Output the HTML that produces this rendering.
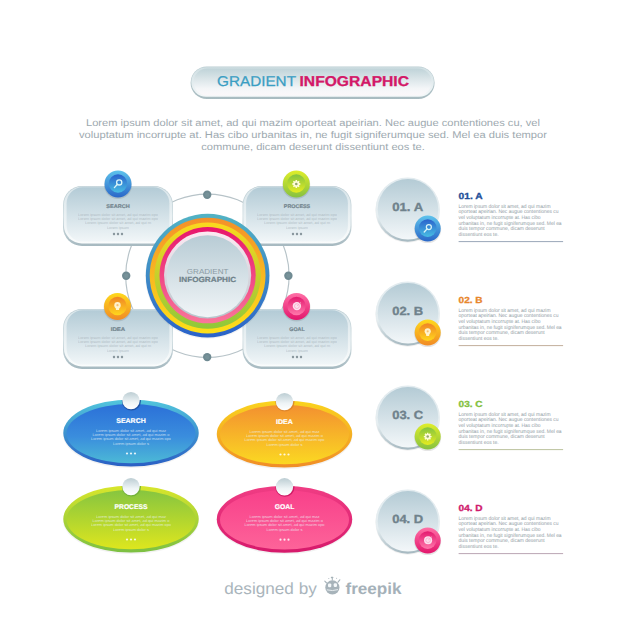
<!DOCTYPE html>
<html><head><meta charset="utf-8"><title>Gradient Infographic</title>
<style>
html,body{margin:0;padding:0;background:#ffffff;width:626px;height:626px;overflow:hidden}
svg{display:block;font-family:"Liberation Sans", sans-serif}
text{text-rendering:geometricPrecision}
</style></head><body>
<svg width="626" height="626" viewBox="0 0 626 626">
<defs><linearGradient id="cardRim" x1="0" y1="0" x2="0" y2="1"><stop offset="0" stop-color="#b8cad0"/><stop offset="0.5" stop-color="#d3dfe3"/><stop offset="1" stop-color="#a6b9c0"/></linearGradient><linearGradient id="cardHi" x1="0" y1="0" x2="0" y2="1"><stop offset="0" stop-color="#d9e5ea"/><stop offset="1" stop-color="#fafcfc"/></linearGradient><linearGradient id="cardFace" x1="0" y1="0" x2="0" y2="1"><stop offset="0" stop-color="#b3cbd6"/><stop offset="1" stop-color="#f1f6f8"/></linearGradient><linearGradient id="ballFace" x1="0" y1="0" x2="0" y2="1"><stop offset="0" stop-color="#b4cbd5"/><stop offset="1" stop-color="#f3f7f9"/></linearGradient><linearGradient id="ballRim" x1="0" y1="0" x2="0" y2="1"><stop offset="0" stop-color="#e2ebef"/><stop offset="0.6" stop-color="#e6eef1"/><stop offset="1" stop-color="#a5b8c0"/></linearGradient><linearGradient id="pillRim" x1="0" y1="0" x2="0" y2="1"><stop offset="0" stop-color="#b9ccd1"/><stop offset="1" stop-color="#a8bbc0"/></linearGradient><linearGradient id="pillHi" x1="0" y1="0" x2="0" y2="1"><stop offset="0" stop-color="#d0dfe3"/><stop offset="1" stop-color="#f4f8f9"/></linearGradient><linearGradient id="pillFace" x1="0" y1="0" x2="0" y2="1"><stop offset="0" stop-color="#bfd3d8"/><stop offset="0.75" stop-color="#f4f6f8"/><stop offset="1" stop-color="#fbf8fa"/></linearGradient><linearGradient id="ic_blue_o" x1="0" y1="0" x2="0" y2="1"><stop offset="0" stop-color="#5ec3ec"/><stop offset="1" stop-color="#2a67c8"/></linearGradient><linearGradient id="ic_blue_i" x1="0" y1="0" x2="0" y2="1"><stop offset="0" stop-color="#2a62cc"/><stop offset="1" stop-color="#48bde3"/></linearGradient><linearGradient id="ic_green_o" x1="0" y1="0" x2="0" y2="1"><stop offset="0" stop-color="#dfee2a"/><stop offset="1" stop-color="#86c140"/></linearGradient><linearGradient id="ic_green_i" x1="0" y1="0" x2="0" y2="1"><stop offset="0" stop-color="#83c441"/><stop offset="1" stop-color="#e6ec1f"/></linearGradient><linearGradient id="ic_orange_o" x1="0" y1="0" x2="0" y2="1"><stop offset="0" stop-color="#ffd91c"/><stop offset="1" stop-color="#f18a25"/></linearGradient><linearGradient id="ic_orange_i" x1="0" y1="0" x2="0" y2="1"><stop offset="0" stop-color="#f08426"/><stop offset="1" stop-color="#ffd71c"/></linearGradient><linearGradient id="ic_pink_o" x1="0" y1="0" x2="0" y2="1"><stop offset="0" stop-color="#ff6fa6"/><stop offset="1" stop-color="#e3166c"/></linearGradient><linearGradient id="ic_pink_i" x1="0" y1="0" x2="0" y2="1"><stop offset="0" stop-color="#e4196f"/><stop offset="1" stop-color="#ff78ab"/></linearGradient><linearGradient id="r1" x1="0" y1="0" x2="0" y2="1"><stop offset="0" stop-color="#52b3c4"/><stop offset="1" stop-color="#2a62c9"/></linearGradient><linearGradient id="r2" x1="0" y1="0" x2="0" y2="1"><stop offset="0" stop-color="#f4902a"/><stop offset="1" stop-color="#fde018"/></linearGradient><linearGradient id="r3" x1="0" y1="0" x2="0" y2="1"><stop offset="0" stop-color="#fbd81e"/><stop offset="1" stop-color="#8fc83a"/></linearGradient><linearGradient id="r4" x1="0" y1="0" x2="0" y2="1"><stop offset="0" stop-color="#e8166c"/><stop offset="1" stop-color="#f9769b"/></linearGradient><linearGradient id="r5" x1="0" y1="0" x2="0" y2="1"><stop offset="0" stop-color="#fde9f2"/><stop offset="1" stop-color="#b7c5cc"/></linearGradient><linearGradient id="cFace" x1="0" y1="0" x2="0" y2="1"><stop offset="0" stop-color="#b8ccd5"/><stop offset="1" stop-color="#f1f5f7"/></linearGradient><linearGradient id="el_blue_o" x1="0" y1="0" x2="0" y2="1"><stop offset="0" stop-color="#52c6dc"/><stop offset="1" stop-color="#2a5fc4"/></linearGradient><linearGradient id="el_blue_i" x1="0" y1="0" x2="0" y2="1"><stop offset="0" stop-color="#2b70d8"/><stop offset="0.55" stop-color="#3a8ddd"/><stop offset="1" stop-color="#4cb9d6"/></linearGradient><linearGradient id="el_orange_o" x1="0" y1="0" x2="0" y2="1"><stop offset="0" stop-color="#fad41e"/><stop offset="1" stop-color="#f08d27"/></linearGradient><linearGradient id="el_orange_i" x1="0" y1="0" x2="0" y2="1"><stop offset="0" stop-color="#f39030"/><stop offset="1" stop-color="#fbd822"/></linearGradient><linearGradient id="el_green_o" x1="0" y1="0" x2="0" y2="1"><stop offset="0" stop-color="#d9e62b"/><stop offset="1" stop-color="#7cc043"/></linearGradient><linearGradient id="el_green_i" x1="0" y1="0" x2="0" y2="1"><stop offset="0" stop-color="#86c540"/><stop offset="1" stop-color="#dde61e"/></linearGradient><linearGradient id="el_pink_o" x1="0" y1="0" x2="0" y2="1"><stop offset="0" stop-color="#f03d84"/><stop offset="1" stop-color="#d6196b"/></linearGradient><linearGradient id="el_pink_i" x1="0" y1="0" x2="0" y2="1"><stop offset="0" stop-color="#f8408a"/><stop offset="1" stop-color="#fd6399"/></linearGradient><linearGradient id="knob" x1="0" y1="0" x2="0" y2="1"><stop offset="0" stop-color="#bccdd3"/><stop offset="0.6" stop-color="#eef4f6"/><stop offset="1" stop-color="#ffffff"/></linearGradient></defs>
<rect width="626" height="626" fill="#ffffff"/>
<circle cx="207.4" cy="275.8" r="81.7" fill="none" stroke="#b7c3c8" stroke-width="1.15"/>
<circle cx="207.2" cy="194.70000000000002" r="4.2" fill="#6f8a92"/>
<circle cx="207.2" cy="194.70000000000002" r="2.2" fill="#7d979e" opacity="0.6"/>
<circle cx="126.19999999999999" cy="275.8" r="4.2" fill="#6f8a92"/>
<circle cx="126.19999999999999" cy="275.8" r="2.2" fill="#7d979e" opacity="0.6"/>
<circle cx="288.4" cy="275.8" r="4.2" fill="#6f8a92"/>
<circle cx="288.4" cy="275.8" r="2.2" fill="#7d979e" opacity="0.6"/>
<circle cx="207.2" cy="357.1" r="4.2" fill="#6f8a92"/>
<circle cx="207.2" cy="357.1" r="2.2" fill="#7d979e" opacity="0.6"/>
<rect x="63" y="186" width="110" height="60" rx="19" fill="url(#cardRim)"/>
<rect x="63.9" y="186.6" width="108.2" height="56.8" rx="18" fill="url(#cardHi)"/>
<rect x="66.6" y="187.2" width="102.8" height="54.4" rx="16" fill="url(#cardFace)"/>
<circle cx="118" cy="185" r="14.0" fill="#000" opacity="0.10"/>
<circle cx="118" cy="184" r="13.5" fill="url(#ic_blue_o)"/>
<circle cx="118" cy="183.5" r="9.180000000000001" fill="url(#ic_blue_i)"/>
<circle cx="119.2" cy="182.4" r="2.6" fill="none" stroke="#d8f4f8" stroke-width="1.3"/>
<line x1="117.4" y1="184.3" x2="114.4" y2="187.6" stroke="#d8f4f8" stroke-width="1.4" stroke-linecap="round"/>
<text x="118.0" y="207.9" font-size="5.4" fill="#74868f" font-weight="bold" text-anchor="middle" textLength="23.3" lengthAdjust="spacingAndGlyphs" stroke="#74868f" stroke-width="0.2">SEARCH</text>
<text x="118.0" y="216.2" font-size="3.6" fill="#a9b5bc" font-weight="normal" text-anchor="middle" textLength="80" lengthAdjust="spacingAndGlyphs" opacity="0.8">Lorem ipsum dolor sit amet, ad qui mazim opo</text>
<text x="118.0" y="220.29999999999998" font-size="3.6" fill="#a9b5bc" font-weight="normal" text-anchor="middle" textLength="80" lengthAdjust="spacingAndGlyphs" opacity="0.8">Lorem ipsum dolor sit amet, ad qui mazim opo</text>
<text x="118.0" y="224.39999999999998" font-size="3.6" fill="#a9b5bc" font-weight="normal" text-anchor="middle" textLength="66" lengthAdjust="spacingAndGlyphs" opacity="0.8">Lorem ipsum dolor sit amet, ad qui m</text>
<text x="118.0" y="228.5" font-size="3.6" fill="#a9b5bc" font-weight="normal" text-anchor="middle" textLength="22" lengthAdjust="spacingAndGlyphs" opacity="0.8">Lorem ipsum </text>
<rect x="112.85" y="232.85" width="2.3" height="2.3" rx="0.9" fill="#8a989f"/>
<rect x="116.85" y="232.85" width="2.3" height="2.3" rx="0.9" fill="#8a989f"/>
<rect x="120.85" y="232.85" width="2.3" height="2.3" rx="0.9" fill="#8a989f"/>
<rect x="242.5" y="186" width="109" height="60" rx="19" fill="url(#cardRim)"/>
<rect x="243.4" y="186.6" width="107.2" height="56.8" rx="18" fill="url(#cardHi)"/>
<rect x="246.1" y="187.2" width="101.8" height="54.4" rx="16" fill="url(#cardFace)"/>
<circle cx="296.3" cy="185" r="14.0" fill="#000" opacity="0.10"/>
<circle cx="296.3" cy="184" r="13.5" fill="url(#ic_green_o)"/>
<circle cx="296.3" cy="183.5" r="9.180000000000001" fill="url(#ic_green_i)"/>
<polygon points="299.06,183.10 300.34,183.30 300.34,184.70 299.06,184.90 298.88,185.32 299.65,186.36 298.66,187.35 297.62,186.58 297.20,186.76 297.00,188.04 295.60,188.04 295.40,186.76 294.98,186.58 293.94,187.35 292.95,186.36 293.72,185.32 293.54,184.90 292.26,184.70 292.26,183.30 293.54,183.10 293.72,182.68 292.95,181.64 293.94,180.65 294.98,181.42 295.40,181.24 295.60,179.96 297.00,179.96 297.20,181.24 297.62,181.42 298.66,180.65 299.65,181.64 298.88,182.68" fill="#fffbd8"/>
<circle cx="296.3" cy="184" r="1.3" fill="#93a86a"/>
<text x="297.0" y="207.9" font-size="5.4" fill="#74868f" font-weight="bold" text-anchor="middle" textLength="26.4" lengthAdjust="spacingAndGlyphs" stroke="#74868f" stroke-width="0.2">PROCESS</text>
<text x="297.0" y="216.2" font-size="3.6" fill="#a9b5bc" font-weight="normal" text-anchor="middle" textLength="80" lengthAdjust="spacingAndGlyphs" opacity="0.8">Lorem ipsum dolor sit amet, ad qui mazim opo</text>
<text x="297.0" y="220.29999999999998" font-size="3.6" fill="#a9b5bc" font-weight="normal" text-anchor="middle" textLength="80" lengthAdjust="spacingAndGlyphs" opacity="0.8">Lorem ipsum dolor sit amet, ad qui mazim opo</text>
<text x="297.0" y="224.39999999999998" font-size="3.6" fill="#a9b5bc" font-weight="normal" text-anchor="middle" textLength="66" lengthAdjust="spacingAndGlyphs" opacity="0.8">Lorem ipsum dolor sit amet, ad qui m</text>
<text x="297.0" y="228.5" font-size="3.6" fill="#a9b5bc" font-weight="normal" text-anchor="middle" textLength="22" lengthAdjust="spacingAndGlyphs" opacity="0.8">Lorem ipsum </text>
<rect x="291.85" y="232.85" width="2.3" height="2.3" rx="0.9" fill="#8a989f"/>
<rect x="295.85" y="232.85" width="2.3" height="2.3" rx="0.9" fill="#8a989f"/>
<rect x="299.85" y="232.85" width="2.3" height="2.3" rx="0.9" fill="#8a989f"/>
<rect x="63" y="309" width="110" height="60" rx="19" fill="url(#cardRim)"/>
<rect x="63.9" y="309.6" width="108.2" height="56.8" rx="18" fill="url(#cardHi)"/>
<rect x="66.6" y="310.2" width="102.8" height="54.4" rx="16" fill="url(#cardFace)"/>
<circle cx="117.5" cy="307.5" r="14.0" fill="#000" opacity="0.10"/>
<circle cx="117.5" cy="306.5" r="13.5" fill="url(#ic_orange_o)"/>
<circle cx="117.5" cy="306.0" r="9.180000000000001" fill="url(#ic_orange_i)"/>
<circle cx="117.5" cy="305.2" r="3.2" fill="#fff6d5" opacity="0.95"/>
<path d="M115.6,307.3 L119.4,307.3 L119.0,310.1 L116.0,310.1 Z" fill="#fff6d5" opacity="0.95"/>
<circle cx="117.5" cy="305.2" r="1.1" fill="#f7c070"/>
<text x="118.0" y="330.9" font-size="5.4" fill="#74868f" font-weight="bold" text-anchor="middle" textLength="14.5" lengthAdjust="spacingAndGlyphs" stroke="#74868f" stroke-width="0.2">IDEA</text>
<text x="118.0" y="339.2" font-size="3.6" fill="#a9b5bc" font-weight="normal" text-anchor="middle" textLength="80" lengthAdjust="spacingAndGlyphs" opacity="0.8">Lorem ipsum dolor sit amet, ad qui mazim opo</text>
<text x="118.0" y="343.3" font-size="3.6" fill="#a9b5bc" font-weight="normal" text-anchor="middle" textLength="80" lengthAdjust="spacingAndGlyphs" opacity="0.8">Lorem ipsum dolor sit amet, ad qui mazim opo</text>
<text x="118.0" y="347.4" font-size="3.6" fill="#a9b5bc" font-weight="normal" text-anchor="middle" textLength="66" lengthAdjust="spacingAndGlyphs" opacity="0.8">Lorem ipsum dolor sit amet, ad qui m</text>
<text x="118.0" y="351.5" font-size="3.6" fill="#a9b5bc" font-weight="normal" text-anchor="middle" textLength="22" lengthAdjust="spacingAndGlyphs" opacity="0.8">Lorem ipsum </text>
<rect x="112.85" y="355.85" width="2.3" height="2.3" rx="0.9" fill="#8a989f"/>
<rect x="116.85" y="355.85" width="2.3" height="2.3" rx="0.9" fill="#8a989f"/>
<rect x="120.85" y="355.85" width="2.3" height="2.3" rx="0.9" fill="#8a989f"/>
<rect x="242.5" y="309" width="109" height="60" rx="19" fill="url(#cardRim)"/>
<rect x="243.4" y="309.6" width="107.2" height="56.8" rx="18" fill="url(#cardHi)"/>
<rect x="246.1" y="310.2" width="101.8" height="54.4" rx="16" fill="url(#cardFace)"/>
<circle cx="296.5" cy="307.5" r="14.0" fill="#000" opacity="0.10"/>
<circle cx="296.5" cy="306.5" r="13.5" fill="url(#ic_pink_o)"/>
<circle cx="296.5" cy="306.0" r="9.180000000000001" fill="url(#ic_pink_i)"/>
<circle cx="296.9" cy="306.1" r="4.2" fill="#fde0ee"/>
<circle cx="296.9" cy="306.1" r="2.4" fill="none" stroke="#f5a9c9" stroke-width="0.8"/>
<line x1="296.9" y1="306.1" x2="301.0" y2="302.2" stroke="#f5a9c9" stroke-width="0.7"/>
<text x="297.0" y="330.9" font-size="5.4" fill="#74868f" font-weight="bold" text-anchor="middle" textLength="15.3" lengthAdjust="spacingAndGlyphs" stroke="#74868f" stroke-width="0.2">GOAL</text>
<text x="297.0" y="339.2" font-size="3.6" fill="#a9b5bc" font-weight="normal" text-anchor="middle" textLength="80" lengthAdjust="spacingAndGlyphs" opacity="0.8">Lorem ipsum dolor sit amet, ad qui mazim opo</text>
<text x="297.0" y="343.3" font-size="3.6" fill="#a9b5bc" font-weight="normal" text-anchor="middle" textLength="80" lengthAdjust="spacingAndGlyphs" opacity="0.8">Lorem ipsum dolor sit amet, ad qui mazim opo</text>
<text x="297.0" y="347.4" font-size="3.6" fill="#a9b5bc" font-weight="normal" text-anchor="middle" textLength="66" lengthAdjust="spacingAndGlyphs" opacity="0.8">Lorem ipsum dolor sit amet, ad qui m</text>
<text x="297.0" y="351.5" font-size="3.6" fill="#a9b5bc" font-weight="normal" text-anchor="middle" textLength="22" lengthAdjust="spacingAndGlyphs" opacity="0.8">Lorem ipsum </text>
<rect x="291.85" y="355.85" width="2.3" height="2.3" rx="0.9" fill="#8a989f"/>
<rect x="295.85" y="355.85" width="2.3" height="2.3" rx="0.9" fill="#8a989f"/>
<rect x="299.85" y="355.85" width="2.3" height="2.3" rx="0.9" fill="#8a989f"/>
<circle cx="207.6" cy="276.40000000000003" r="62.3" fill="#000" opacity="0.05"/>
<circle cx="207.6" cy="275.6" r="61.8" fill="url(#r1)"/>
<circle cx="207.6" cy="275.6" r="57.9" fill="url(#r2)"/>
<circle cx="207.6" cy="275.6" r="53.1" fill="url(#r3)"/>
<circle cx="207.6" cy="275.20000000000005" r="48.1" fill="url(#r4)"/>
<circle cx="207.6" cy="275.0" r="43.6" fill="url(#r5)"/>
<circle cx="207.6" cy="276.20000000000005" r="41" fill="url(#cFace)"/>
<text x="207.6" y="274.4" font-size="7.2" fill="#8a9aa3" font-weight="normal" text-anchor="middle" textLength="41.5" lengthAdjust="spacingAndGlyphs" >GRADIENT</text>
<text x="207.6" y="282.4" font-size="7.4" fill="#70828b" font-weight="bold" text-anchor="middle" textLength="57" lengthAdjust="spacingAndGlyphs" stroke="#70828b" stroke-width="0.2">INFOGRAPHIC</text>
<clipPath id="clip_blue"><ellipse cx="131" cy="433" rx="67.7" ry="33.5"/></clipPath>
<ellipse cx="131" cy="434.2" rx="68.0" ry="33.8" fill="#000" opacity="0.05"/>
<ellipse cx="131" cy="433" rx="67.7" ry="33.5" fill="url(#el_blue_o)"/>
<ellipse cx="131" cy="433.6" rx="64.5" ry="29.6" fill="url(#el_blue_i)"/>
<circle cx="131.4" cy="400.90000000000003" r="9.6" fill="#1b4c9c" clip-path="url(#clip_blue)" opacity="0.85"/>
<circle cx="131" cy="400.6" r="8.7" fill="url(#knob)"/>
<text x="131" y="422.9" font-size="6.9" fill="#ffffff" font-weight="bold" text-anchor="middle" textLength="29.5" lengthAdjust="spacingAndGlyphs" stroke="#fff" stroke-width="0.2">SEARCH</text>
<text x="131" y="431.6" font-size="3.8" fill="#eef6fa" font-weight="normal" text-anchor="middle" textLength="70" lengthAdjust="spacingAndGlyphs" opacity="0.7">Lorem ipsum dolor sit amet, ad qui maz</text>
<text x="131" y="435.90000000000003" font-size="3.8" fill="#eef6fa" font-weight="normal" text-anchor="middle" textLength="77" lengthAdjust="spacingAndGlyphs" opacity="0.7">Lorem ipsum dolor sit amet, ad qui mazim o</text>
<text x="131" y="440.20000000000005" font-size="3.8" fill="#eef6fa" font-weight="normal" text-anchor="middle" textLength="80" lengthAdjust="spacingAndGlyphs" opacity="0.7">Lorem ipsum dolor sit amet, ad qui mazim opo</text>
<text x="131" y="444.5" font-size="3.8" fill="#eef6fa" font-weight="normal" text-anchor="middle" textLength="36" lengthAdjust="spacingAndGlyphs" opacity="0.7">Lorem ipsum dolor s</text>
<circle cx="127" cy="453.5" r="1.1" fill="#ffffff" opacity="0.85"/>
<circle cx="131" cy="453.5" r="1.1" fill="#ffffff" opacity="0.85"/>
<circle cx="135" cy="453.5" r="1.1" fill="#ffffff" opacity="0.85"/>
<clipPath id="clip_orange"><ellipse cx="284.5" cy="434" rx="67.7" ry="33.5"/></clipPath>
<ellipse cx="284.5" cy="435.2" rx="68.0" ry="33.8" fill="#000" opacity="0.05"/>
<ellipse cx="284.5" cy="434" rx="67.7" ry="33.5" fill="url(#el_orange_o)"/>
<ellipse cx="284.5" cy="434.6" rx="64.5" ry="29.6" fill="url(#el_orange_i)"/>
<circle cx="284.9" cy="401.90000000000003" r="9.6" fill="#d9822a" clip-path="url(#clip_orange)" opacity="0.85"/>
<circle cx="284.5" cy="401.6" r="8.7" fill="url(#knob)"/>
<text x="284.5" y="423.9" font-size="6.9" fill="#ffffff" font-weight="bold" text-anchor="middle" textLength="16.8" lengthAdjust="spacingAndGlyphs" stroke="#fff" stroke-width="0.2">IDEA</text>
<text x="284.5" y="432.6" font-size="3.8" fill="#eef6fa" font-weight="normal" text-anchor="middle" textLength="70" lengthAdjust="spacingAndGlyphs" opacity="0.7">Lorem ipsum dolor sit amet, ad qui maz</text>
<text x="284.5" y="436.90000000000003" font-size="3.8" fill="#eef6fa" font-weight="normal" text-anchor="middle" textLength="77" lengthAdjust="spacingAndGlyphs" opacity="0.7">Lorem ipsum dolor sit amet, ad qui mazim o</text>
<text x="284.5" y="441.20000000000005" font-size="3.8" fill="#eef6fa" font-weight="normal" text-anchor="middle" textLength="80" lengthAdjust="spacingAndGlyphs" opacity="0.7">Lorem ipsum dolor sit amet, ad qui mazim opo</text>
<text x="284.5" y="445.5" font-size="3.8" fill="#eef6fa" font-weight="normal" text-anchor="middle" textLength="36" lengthAdjust="spacingAndGlyphs" opacity="0.7">Lorem ipsum dolor s</text>
<circle cx="280.5" cy="454.5" r="1.1" fill="#ffffff" opacity="0.85"/>
<circle cx="284.5" cy="454.5" r="1.1" fill="#ffffff" opacity="0.85"/>
<circle cx="288.5" cy="454.5" r="1.1" fill="#ffffff" opacity="0.85"/>
<clipPath id="clip_green"><ellipse cx="131" cy="519" rx="67.7" ry="33.5"/></clipPath>
<ellipse cx="131" cy="520.2" rx="68.0" ry="33.8" fill="#000" opacity="0.05"/>
<ellipse cx="131" cy="519" rx="67.7" ry="33.5" fill="url(#el_green_o)"/>
<ellipse cx="131" cy="519.6" rx="64.5" ry="29.6" fill="url(#el_green_i)"/>
<circle cx="131.4" cy="486.90000000000003" r="9.6" fill="#6fae3a" clip-path="url(#clip_green)" opacity="0.85"/>
<circle cx="131" cy="486.6" r="8.7" fill="url(#knob)"/>
<text x="131" y="508.9" font-size="6.9" fill="#ffffff" font-weight="bold" text-anchor="middle" textLength="32.9" lengthAdjust="spacingAndGlyphs" stroke="#fff" stroke-width="0.2">PROCESS</text>
<text x="131" y="517.6" font-size="3.8" fill="#eef6fa" font-weight="normal" text-anchor="middle" textLength="70" lengthAdjust="spacingAndGlyphs" opacity="0.7">Lorem ipsum dolor sit amet, ad qui maz</text>
<text x="131" y="521.9" font-size="3.8" fill="#eef6fa" font-weight="normal" text-anchor="middle" textLength="77" lengthAdjust="spacingAndGlyphs" opacity="0.7">Lorem ipsum dolor sit amet, ad qui mazim o</text>
<text x="131" y="526.2" font-size="3.8" fill="#eef6fa" font-weight="normal" text-anchor="middle" textLength="80" lengthAdjust="spacingAndGlyphs" opacity="0.7">Lorem ipsum dolor sit amet, ad qui mazim opo</text>
<text x="131" y="530.5" font-size="3.8" fill="#eef6fa" font-weight="normal" text-anchor="middle" textLength="36" lengthAdjust="spacingAndGlyphs" opacity="0.7">Lorem ipsum dolor s</text>
<circle cx="127" cy="539.5" r="1.1" fill="#ffffff" opacity="0.85"/>
<circle cx="131" cy="539.5" r="1.1" fill="#ffffff" opacity="0.85"/>
<circle cx="135" cy="539.5" r="1.1" fill="#ffffff" opacity="0.85"/>
<clipPath id="clip_pink"><ellipse cx="284.5" cy="519.2" rx="67.7" ry="33.5"/></clipPath>
<ellipse cx="284.5" cy="520.4000000000001" rx="68.0" ry="33.8" fill="#000" opacity="0.05"/>
<ellipse cx="284.5" cy="519.2" rx="67.7" ry="33.5" fill="url(#el_pink_o)"/>
<ellipse cx="284.5" cy="519.8000000000001" rx="64.5" ry="29.6" fill="url(#el_pink_i)"/>
<circle cx="284.9" cy="487.1000000000001" r="9.6" fill="#c8135e" clip-path="url(#clip_pink)" opacity="0.85"/>
<circle cx="284.5" cy="486.80000000000007" r="8.7" fill="url(#knob)"/>
<text x="284.5" y="509.1" font-size="6.9" fill="#ffffff" font-weight="bold" text-anchor="middle" textLength="19.6" lengthAdjust="spacingAndGlyphs" stroke="#fff" stroke-width="0.2">GOAL</text>
<text x="284.5" y="517.8000000000001" font-size="3.8" fill="#eef6fa" font-weight="normal" text-anchor="middle" textLength="70" lengthAdjust="spacingAndGlyphs" opacity="0.7">Lorem ipsum dolor sit amet, ad qui maz</text>
<text x="284.5" y="522.1" font-size="3.8" fill="#eef6fa" font-weight="normal" text-anchor="middle" textLength="77" lengthAdjust="spacingAndGlyphs" opacity="0.7">Lorem ipsum dolor sit amet, ad qui mazim o</text>
<text x="284.5" y="526.4000000000001" font-size="3.8" fill="#eef6fa" font-weight="normal" text-anchor="middle" textLength="80" lengthAdjust="spacingAndGlyphs" opacity="0.7">Lorem ipsum dolor sit amet, ad qui mazim opo</text>
<text x="284.5" y="530.7" font-size="3.8" fill="#eef6fa" font-weight="normal" text-anchor="middle" textLength="36" lengthAdjust="spacingAndGlyphs" opacity="0.7">Lorem ipsum dolor s</text>
<circle cx="280.5" cy="539.7" r="1.1" fill="#ffffff" opacity="0.85"/>
<circle cx="284.5" cy="539.7" r="1.1" fill="#ffffff" opacity="0.85"/>
<circle cx="288.5" cy="539.7" r="1.1" fill="#ffffff" opacity="0.85"/>
<circle cx="407.7" cy="210.4" r="32.3" fill="#000" opacity="0.06"/>
<circle cx="407.7" cy="209.6" r="32.1" fill="url(#ballRim)"/>
<circle cx="408.0" cy="209.29999999999998" r="30.3" fill="url(#ballFace)"/>
<text x="407.7" y="211.29999999999998" font-size="11.8" fill="#6f828c" font-weight="bold" text-anchor="middle" textLength="31" lengthAdjust="spacingAndGlyphs" stroke="#6f828c" stroke-width="0.35">01. A</text>
<circle cx="427.7" cy="229.6" r="13.5" fill="#000" opacity="0.10"/>
<circle cx="427.7" cy="228.6" r="13" fill="url(#ic_blue_o)"/>
<circle cx="427.7" cy="228.1" r="8.84" fill="url(#ic_blue_i)"/>
<circle cx="428.85555555555555" cy="227.05925925925925" r="2.5037037037037035" fill="none" stroke="#d8f4f8" stroke-width="1.2518518518518518"/>
<line x1="427.1222222222222" y1="228.88888888888889" x2="424.23333333333335" y2="232.06666666666666" stroke="#d8f4f8" stroke-width="1.348148148148148" stroke-linecap="round"/>
<text x="458.6" y="199.29999999999998" font-size="8.8" fill="#224f99" font-weight="bold" text-anchor="start" textLength="24" lengthAdjust="spacingAndGlyphs" stroke="#224f99" stroke-width="0.3">01. A</text>
<text x="458.6" y="207.7" font-size="5.2" fill="#8f9ca4" font-weight="normal" text-anchor="start" textLength="92" lengthAdjust="spacingAndGlyphs" >Lorem ipsum dolor sit amet, ad qui mazim</text>
<text x="458.6" y="213.32" font-size="5.2" fill="#8f9ca4" font-weight="normal" text-anchor="start" textLength="100" lengthAdjust="spacingAndGlyphs" >oporteat apeirian. Nec augue contentiones cu</text>
<text x="458.6" y="218.94" font-size="5.2" fill="#8f9ca4" font-weight="normal" text-anchor="start" textLength="82" lengthAdjust="spacingAndGlyphs" >vel voluptatum incorrupte at. Has cibo</text>
<text x="458.6" y="224.56" font-size="5.2" fill="#8f9ca4" font-weight="normal" text-anchor="start" textLength="103" lengthAdjust="spacingAndGlyphs" >urbanitas in, ne fugit signiferumque sed. Mel ea</text>
<text x="458.6" y="230.17999999999998" font-size="5.2" fill="#8f9ca4" font-weight="normal" text-anchor="start" textLength="86" lengthAdjust="spacingAndGlyphs" >duis tempor commune, dicam deserunt</text>
<text x="458.6" y="235.79999999999998" font-size="5.2" fill="#8f9ca4" font-weight="normal" text-anchor="start" textLength="40" lengthAdjust="spacingAndGlyphs" >dissentiunt eos te.</text>
<rect x="458.6" y="241.1" width="104.5" height="1" fill="#9aa7b8"/>
<circle cx="407.7" cy="314.40000000000003" r="32.3" fill="#000" opacity="0.06"/>
<circle cx="407.7" cy="313.6" r="32.1" fill="url(#ballRim)"/>
<circle cx="408.0" cy="313.3" r="30.3" fill="url(#ballFace)"/>
<text x="407.7" y="315.3" font-size="11.8" fill="#6f828c" font-weight="bold" text-anchor="middle" textLength="31" lengthAdjust="spacingAndGlyphs" stroke="#6f828c" stroke-width="0.35">02. B</text>
<circle cx="427.7" cy="333.6" r="13.5" fill="#000" opacity="0.10"/>
<circle cx="427.7" cy="332.6" r="13" fill="url(#ic_orange_o)"/>
<circle cx="427.7" cy="332.1" r="8.84" fill="url(#ic_orange_i)"/>
<circle cx="427.7" cy="331.3481481481482" r="3.0814814814814815" fill="#fff6d5" opacity="0.95"/>
<path d="M425.8703703703704,333.3703703703704 L429.5296296296296,333.3703703703704 L429.14444444444445,336.06666666666666 L426.25555555555553,336.06666666666666 Z" fill="#fff6d5" opacity="0.95"/>
<circle cx="427.7" cy="331.3481481481482" r="1.0592592592592593" fill="#f7c070"/>
<text x="458.6" y="303.3" font-size="8.8" fill="#e8862c" font-weight="bold" text-anchor="start" textLength="24" lengthAdjust="spacingAndGlyphs" stroke="#e8862c" stroke-width="0.3">02. B</text>
<text x="458.6" y="311.70000000000005" font-size="5.2" fill="#8f9ca4" font-weight="normal" text-anchor="start" textLength="92" lengthAdjust="spacingAndGlyphs" >Lorem ipsum dolor sit amet, ad qui mazim</text>
<text x="458.6" y="317.32000000000005" font-size="5.2" fill="#8f9ca4" font-weight="normal" text-anchor="start" textLength="100" lengthAdjust="spacingAndGlyphs" >oporteat apeirian. Nec augue contentiones cu</text>
<text x="458.6" y="322.94000000000005" font-size="5.2" fill="#8f9ca4" font-weight="normal" text-anchor="start" textLength="82" lengthAdjust="spacingAndGlyphs" >vel voluptatum incorrupte at. Has cibo</text>
<text x="458.6" y="328.56000000000006" font-size="5.2" fill="#8f9ca4" font-weight="normal" text-anchor="start" textLength="103" lengthAdjust="spacingAndGlyphs" >urbanitas in, ne fugit signiferumque sed. Mel ea</text>
<text x="458.6" y="334.18000000000006" font-size="5.2" fill="#8f9ca4" font-weight="normal" text-anchor="start" textLength="86" lengthAdjust="spacingAndGlyphs" >duis tempor commune, dicam deserunt</text>
<text x="458.6" y="339.80000000000007" font-size="5.2" fill="#8f9ca4" font-weight="normal" text-anchor="start" textLength="40" lengthAdjust="spacingAndGlyphs" >dissentiunt eos te.</text>
<rect x="458.6" y="345.1" width="104.5" height="1" fill="#c2af9c"/>
<circle cx="407.7" cy="418.40000000000003" r="32.3" fill="#000" opacity="0.06"/>
<circle cx="407.7" cy="417.6" r="32.1" fill="url(#ballRim)"/>
<circle cx="408.0" cy="417.3" r="30.3" fill="url(#ballFace)"/>
<text x="407.7" y="419.3" font-size="11.8" fill="#6f828c" font-weight="bold" text-anchor="middle" textLength="31" lengthAdjust="spacingAndGlyphs" stroke="#6f828c" stroke-width="0.35">03. C</text>
<circle cx="427.7" cy="437.6" r="13.5" fill="#000" opacity="0.10"/>
<circle cx="427.7" cy="436.6" r="13" fill="url(#ic_green_o)"/>
<circle cx="427.7" cy="436.1" r="8.84" fill="url(#ic_green_i)"/>
<polygon points="430.36,435.74 431.59,435.92 431.59,437.28 430.36,437.46 430.19,437.87 430.93,438.87 429.97,439.83 428.97,439.09 428.56,439.26 428.38,440.49 427.02,440.49 426.84,439.26 426.43,439.09 425.43,439.83 424.47,438.87 425.21,437.87 425.04,437.46 423.81,437.28 423.81,435.92 425.04,435.74 425.21,435.33 424.47,434.33 425.43,433.37 426.43,434.11 426.84,433.94 427.02,432.71 428.38,432.71 428.56,433.94 428.97,434.11 429.97,433.37 430.93,434.33 430.19,435.33" fill="#fffbd8"/>
<circle cx="427.7" cy="436.6" r="1.2518518518518518" fill="#93a86a"/>
<text x="458.6" y="407.3" font-size="8.8" fill="#84c13f" font-weight="bold" text-anchor="start" textLength="24" lengthAdjust="spacingAndGlyphs" stroke="#84c13f" stroke-width="0.3">03. C</text>
<text x="458.6" y="415.70000000000005" font-size="5.2" fill="#8f9ca4" font-weight="normal" text-anchor="start" textLength="92" lengthAdjust="spacingAndGlyphs" >Lorem ipsum dolor sit amet, ad qui mazim</text>
<text x="458.6" y="421.32000000000005" font-size="5.2" fill="#8f9ca4" font-weight="normal" text-anchor="start" textLength="100" lengthAdjust="spacingAndGlyphs" >oporteat apeirian. Nec augue contentiones cu</text>
<text x="458.6" y="426.94000000000005" font-size="5.2" fill="#8f9ca4" font-weight="normal" text-anchor="start" textLength="82" lengthAdjust="spacingAndGlyphs" >vel voluptatum incorrupte at. Has cibo</text>
<text x="458.6" y="432.56000000000006" font-size="5.2" fill="#8f9ca4" font-weight="normal" text-anchor="start" textLength="103" lengthAdjust="spacingAndGlyphs" >urbanitas in, ne fugit signiferumque sed. Mel ea</text>
<text x="458.6" y="438.18000000000006" font-size="5.2" fill="#8f9ca4" font-weight="normal" text-anchor="start" textLength="86" lengthAdjust="spacingAndGlyphs" >duis tempor commune, dicam deserunt</text>
<text x="458.6" y="443.80000000000007" font-size="5.2" fill="#8f9ca4" font-weight="normal" text-anchor="start" textLength="40" lengthAdjust="spacingAndGlyphs" >dissentiunt eos te.</text>
<rect x="458.6" y="449.1" width="104.5" height="1" fill="#bcc29e"/>
<circle cx="407.7" cy="522.4" r="32.3" fill="#000" opacity="0.06"/>
<circle cx="407.7" cy="521.6" r="32.1" fill="url(#ballRim)"/>
<circle cx="408.0" cy="521.3000000000001" r="30.3" fill="url(#ballFace)"/>
<text x="407.7" y="523.3000000000001" font-size="11.8" fill="#6f828c" font-weight="bold" text-anchor="middle" textLength="31" lengthAdjust="spacingAndGlyphs" stroke="#6f828c" stroke-width="0.35">04. D</text>
<circle cx="427.7" cy="541.6" r="13.5" fill="#000" opacity="0.10"/>
<circle cx="427.7" cy="540.6" r="13" fill="url(#ic_pink_o)"/>
<circle cx="427.7" cy="540.1" r="8.84" fill="url(#ic_pink_i)"/>
<circle cx="428.0851851851852" cy="540.2148148148149" r="4.044444444444444" fill="#fde0ee"/>
<circle cx="428.0851851851852" cy="540.2148148148149" r="2.311111111111111" fill="none" stroke="#f5a9c9" stroke-width="0.7703703703703704"/>
<line x1="428.0851851851852" y1="540.2148148148149" x2="432.0333333333333" y2="536.4592592592593" stroke="#f5a9c9" stroke-width="0.674074074074074"/>
<text x="458.6" y="511.3" font-size="8.8" fill="#cf1a6c" font-weight="bold" text-anchor="start" textLength="24" lengthAdjust="spacingAndGlyphs" stroke="#cf1a6c" stroke-width="0.3">04. D</text>
<text x="458.6" y="519.7" font-size="5.2" fill="#8f9ca4" font-weight="normal" text-anchor="start" textLength="92" lengthAdjust="spacingAndGlyphs" >Lorem ipsum dolor sit amet, ad qui mazim</text>
<text x="458.6" y="525.32" font-size="5.2" fill="#8f9ca4" font-weight="normal" text-anchor="start" textLength="100" lengthAdjust="spacingAndGlyphs" >oporteat apeirian. Nec augue contentiones cu</text>
<text x="458.6" y="530.94" font-size="5.2" fill="#8f9ca4" font-weight="normal" text-anchor="start" textLength="82" lengthAdjust="spacingAndGlyphs" >vel voluptatum incorrupte at. Has cibo</text>
<text x="458.6" y="536.5600000000001" font-size="5.2" fill="#8f9ca4" font-weight="normal" text-anchor="start" textLength="103" lengthAdjust="spacingAndGlyphs" >urbanitas in, ne fugit signiferumque sed. Mel ea</text>
<text x="458.6" y="542.1800000000001" font-size="5.2" fill="#8f9ca4" font-weight="normal" text-anchor="start" textLength="86" lengthAdjust="spacingAndGlyphs" >duis tempor commune, dicam deserunt</text>
<text x="458.6" y="547.8000000000001" font-size="5.2" fill="#8f9ca4" font-weight="normal" text-anchor="start" textLength="40" lengthAdjust="spacingAndGlyphs" >dissentiunt eos te.</text>
<rect x="458.6" y="553.1" width="104.5" height="1" fill="#bba6b4"/>
<rect x="190.6" y="66.6" width="244" height="32.4" rx="16.2" fill="url(#pillRim)"/>
<rect x="191.3" y="67.2" width="242.6" height="29.6" rx="14.8" fill="url(#pillHi)"/>
<rect x="193.6" y="68.4" width="238" height="27.2" rx="13.6" fill="url(#pillFace)"/>
<text x="217" y="85.9" font-size="14.2" fill="#3a9ec3" font-weight="normal" text-anchor="start" textLength="79" lengthAdjust="spacingAndGlyphs" stroke="#3a9ec3" stroke-width="0.25">GRADIENT</text>
<text x="299.5" y="85.9" font-size="14.2" fill="#d31867" font-weight="bold" text-anchor="start" textLength="109.5" lengthAdjust="spacingAndGlyphs" stroke="#d31867" stroke-width="0.3">INFOGRAPHIC</text>
<text x="313" y="126.1" font-size="9.8" fill="#9da9af" font-weight="normal" text-anchor="middle" textLength="454" lengthAdjust="spacingAndGlyphs" >Lorem ipsum dolor sit amet, ad qui mazim oporteat apeirian. Nec augue contentiones cu, vel</text>
<text x="313" y="138.04999999999998" font-size="9.8" fill="#9da9af" font-weight="normal" text-anchor="middle" textLength="468" lengthAdjust="spacingAndGlyphs" >voluptatum incorrupte at. Has cibo urbanitas in, ne fugit signiferumque sed. Mel ea duis tempor</text>
<text x="313" y="150.0" font-size="9.8" fill="#9da9af" font-weight="normal" text-anchor="middle" textLength="223.5" lengthAdjust="spacingAndGlyphs" >commune, dicam deserunt dissentiunt eos te.</text>
<text x="224.3" y="594" font-size="16.3" fill="#aab5bc" font-weight="normal" text-anchor="start" textLength="92.5" lengthAdjust="spacingAndGlyphs" >designed by</text>
<text x="345.5" y="593.6" font-size="16" fill="#a5b1b9" font-weight="bold" text-anchor="start" textLength="56" lengthAdjust="spacingAndGlyphs" >freepik</text>
<circle cx="332.4" cy="587.4" r="7.1" fill="#a7b3ba"/>
<rect x="328.0" y="583.4" width="3.3" height="3.8" rx="1.2" fill="#f4f8fa"/>
<rect x="333.7" y="583.1999999999999" width="3.3" height="3.8" rx="1.2" fill="#f4f8fa"/>
<path d="M326.79999999999995,589.8 Q332.4,591.4 338.0,589.6" fill="none" stroke="#eef3f5" stroke-width="0.9"/>
<rect x="330.79999999999995" y="576.8" width="2.6" height="1.4" rx="0.6" fill="#a7b3ba"/>
<rect x="331.79999999999995" y="577.8" width="1.0" height="2.6" fill="#a7b3ba"/>
<line x1="324.79999999999995" y1="581.1999999999999" x2="326.59999999999997" y2="583.0" stroke="#a7b3ba" stroke-width="1.1" stroke-linecap="round"/>
<line x1="339.79999999999995" y1="579.8" x2="338.0" y2="582.1999999999999" stroke="#a7b3ba" stroke-width="1.1" stroke-linecap="round"/>
<circle cx="328.79999999999995" cy="578.4" r="0.5" fill="#a7b3ba"/>
<circle cx="336.59999999999997" cy="578.1999999999999" r="0.5" fill="#a7b3ba"/>
</svg>
</body></html>
